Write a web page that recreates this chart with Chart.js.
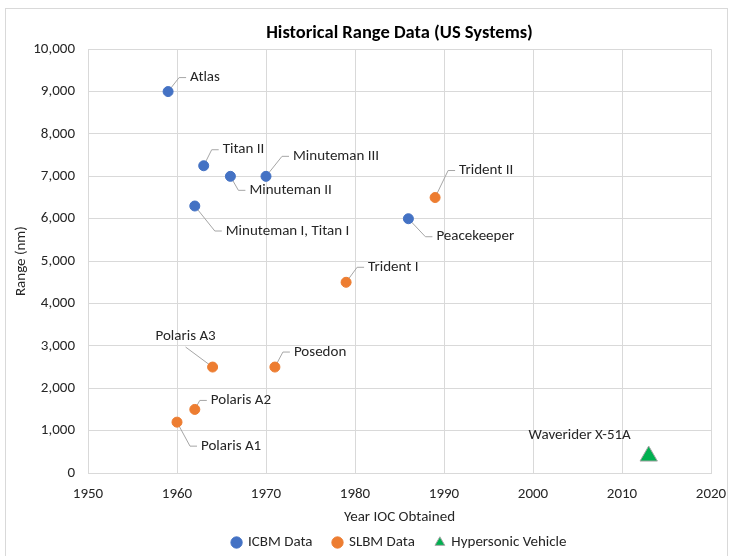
<!DOCTYPE html>
<html>
<head>
<meta charset="utf-8">
<script src="https://cdn.jsdelivr.net/npm/chart.js@4.4.1/dist/chart.umd.min.js"></script>
<style>
html,body{margin:0;padding:0;background:#fff;}
#wrap{width:729px;height:556px;position:relative;}
</style>
</head>
<body>
<div id="wrap"><canvas id="c" width="729" height="556"></canvas></div>
<script>
// ---- data ----
const icbmNames = ["Atlas", "Titan II", "Minuteman II", "Minuteman III", "Minuteman I, Titan I", "Peacekeeper"];
const icbmYears = [1959, 1963, 1966, 1970, 1962, 1986];
const icbmRange = [9000, 7250, 7000, 7000, 6300, 6000];

const slbmNames = ["Trident II", "Trident I", "Polaris A3", "Posedon", "Polaris A2", "Polaris A1"];
const slbmYears = [1989, 1979, 1964, 1971, 1962, 1960];
const slbmRange = [6500, 4500, 2500, 2500, 1500, 1200];

const hyperNames = ["Waverider X-51A"];
const hyperYears = [2013];
const hyperRange = [400];

const seriesNames = ["ICBM Data", "SLBM Data", "Hypersonic Vehicle"];
const xTicks = [1950, 1960, 1970, 1980, 1990, 2000, 2010, 2020];
const yTicks = [0, 1000, 2000, 3000, 4000, 5000, 6000, 7000, 8000, 9000, 10000];

const FONT = "Carlito, Lato, 'Open Sans', sans-serif";
const TXT = '#262626';

// label placement (text left/center offset from point, in px) -- presentation only
const labelPos = {
  "Atlas": {dx: 22, dy: -14},
  "Titan II": {dx: 19, dy: -16},
  "Minuteman III": {dx: 27, dy: -20},
  "Minuteman II": {dx: 19, dy: 14},
  "Minuteman I, Titan I": {dx: 31, dy: 25},
  "Peacekeeper": {dx: 28, dy: 18},
  "Trident II": {dx: 24, dy: -27},
  "Trident I": {dx: 22, dy: -15},
  "Posedon": {dx: 19, dy: -15},
  "Polaris A2": {dx: 16, dy: -9},
  "Polaris A1": {dx: 24, dy: 24},
  "Polaris A3": {dx: -27, dy: -31, center: true, leaderFromBottom: true},
  "Waverider X-51A": {dx: -69, dy: -21, center: true, noLeader: true}
};

function pts(years, ranges) { return years.map((y, i) => ({x: y, y: ranges[i]})); }

const pointLabels = {
  id: 'pointLabels',
  beforeDatasetsDraw(chart) {
    const ctx = chart.ctx;
    ctx.save();
    ctx.strokeStyle = '#a6a6a6';
    ctx.lineWidth = 1;
    chart.data.datasets.forEach((ds, di) => {
      const meta = chart.getDatasetMeta(di);
      meta.data.forEach((el, i) => {
        const name = ds.names[i];
        const p = labelPos[name];
        if (!p || p.noLeader) return;
        const px = el.x, py = el.y;
        const tx = px + p.dx, ty = py + p.dy;
        ctx.beginPath();
        if (p.leaderFromBottom) {
          ctx.moveTo(tx, ty + 11);
          ctx.lineTo(px, py);
        } else {
          ctx.moveTo(px, py);
          ctx.lineTo(tx - 11, ty);
          ctx.lineTo(tx - 4, ty);
        }
        ctx.stroke();
      });
    });
    ctx.restore();
  },
  afterDatasetsDraw(chart) {
    const ctx = chart.ctx;
    ctx.save();
    ctx.fillStyle = TXT;
    ctx.font = "15px " + FONT;
    ctx.textBaseline = 'middle';
    chart.data.datasets.forEach((ds, di) => {
      const meta = chart.getDatasetMeta(di);
      meta.data.forEach((el, i) => {
        const name = ds.names[i];
        const p = labelPos[name];
        if (!p) return;
        ctx.textAlign = p.center ? 'center' : 'left';
        ctx.fillText(name, el.x + p.dx, el.y + p.dy);
      });
    });
    ctx.restore();
  }
};

const frame = {
  id: 'frame',
  beforeDraw(chart) {
    const ctx = chart.ctx;
    ctx.save();
    ctx.fillStyle = '#fff';
    ctx.fillRect(0, 0, chart.width, chart.height);
    ctx.strokeStyle = '#d9d9d9';
    ctx.lineWidth = 1;
    ctx.strokeRect(5.5, 8.5, 722, 600);
    ctx.restore();
  }
};

new Chart(document.getElementById('c'), {
  type: 'scatter',
  data: {
    datasets: [
      {label: seriesNames[0], names: icbmNames, data: pts(icbmYears, icbmRange),
       backgroundColor: '#4472C4', borderColor: '#4472C4', pointRadius: 5, pointStyle: 'circle', borderWidth: 1},
      {label: seriesNames[1], names: slbmNames, data: pts(slbmYears, slbmRange),
       backgroundColor: '#ED7D31', borderColor: '#ED7D31', pointRadius: 5, pointStyle: 'circle', borderWidth: 1},
      {label: seriesNames[2], names: hyperNames, data: pts(hyperYears, hyperRange),
       backgroundColor: '#00B050', borderColor: '#a5a5a5', pointRadius: 10, pointStyle: 'triangle', borderWidth: 1}
    ]
  },
  options: {
    responsive: false,
    animation: false,
    layout: {padding: {left: 0, right: 3, top: 0, bottom: -4}},
    plugins: {
      tooltip: {enabled: false},
      title: {
        display: true,
        fullSize: false,
        text: 'Historical Range Data (US Systems)',
        color: '#000',
        font: {family: FONT, size: 18.5, weight: 'bold'},
        padding: {top: 22, bottom: 5}
      },
      legend: {
        position: 'bottom',
        fullSize: false,
        labels: {
          usePointStyle: true,
          boxWidth: 8, boxHeight: 8,
          color: TXT,
          font: {family: FONT, size: 15},
          padding: 21
        }
      }
    },
    scales: {
      x: {
        type: 'linear', min: 1950, max: 2020,
        afterBuildTicks(s) { s.ticks = xTicks.map(v => ({value: v})); },
        afterFit(s) { s.height = 41; s.paddingRight = 18; },
        ticks: {color: TXT, font: {family: FONT, size: 15}, padding: 12, callback: v => String(v)},
        grid: {color: '#d9d9d9', drawTicks: false},
        border: {color: '#d9d9d9'},
        title: {display: true, text: 'Year IOC Obtained', color: TXT, font: {family: FONT, size: 15}, padding: {top: 0, bottom: -12}}
      },
      y: {
        type: 'linear', min: 0, max: 10000,
        afterBuildTicks(s) { s.ticks = yTicks.map(v => ({value: v})); },
        afterFit(s) { s.width = 88; },
        ticks: {color: TXT, font: {family: FONT, size: 15}, padding: 13, callback: v => Number(v).toLocaleString('en-US')},
        grid: {color: '#d9d9d9', drawTicks: false},
        border: {color: '#d9d9d9'},
        title: {display: true, text: 'Range (nm)', color: TXT, font: {family: FONT, size: 15}, padding: {top: 12, bottom: 4}}
      }
    }
  },
  plugins: [frame, pointLabels]
});
</script>
</body>
</html>
